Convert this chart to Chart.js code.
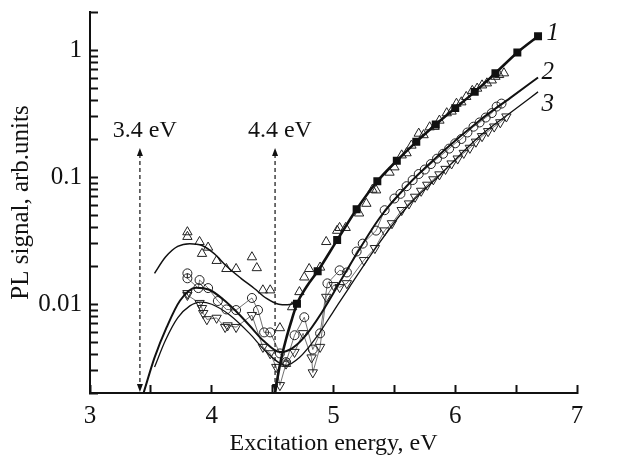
<!DOCTYPE html>
<html>
<head>
<meta charset="utf-8">
<script src="https://cdn.jsdelivr.net/npm/chart.js@4"></script>
<style>
  html, body { margin: 0; padding: 0; background: #fff; }
</style>
</head>
<body>
<canvas id="myChart" width="619" height="458"></canvas>
<script>
// fitted curves, [energy eV, PL signal]
const fit1Uv = [[3.53,0.0175],[3.62,0.0235],[3.72,0.0285],[3.82,0.030],[3.92,0.029],[4.02,0.025],[4.12,0.020],[4.24,0.0160],[4.35,0.0133],[4.45,0.0111],[4.55,0.0100],[4.62,0.0099],[4.70,0.0103]];
const fit1 = [[4.52,0.0020],[4.545,0.0028],[4.57,0.0037],[4.61,0.0053],[4.66,0.0077],[4.70,0.0101],[4.78,0.0138],[4.87,0.0182],[5.03,0.032],[5.19,0.056],[5.36,0.093],[5.52,0.135],[5.68,0.19],[5.84,0.26],[6.00,0.35],[6.16,0.47],[6.33,0.66],[6.51,0.96],[6.68,1.29]];
const fit2 = [[3.44,0.0020],[3.53,0.0038],[3.63,0.0066],[3.74,0.0107],[3.87,0.0135],[3.98,0.0130],[4.10,0.0108],[4.20,0.0088],[4.31,0.0068],[4.43,0.0051],[4.56,0.0042],[4.66,0.0045],[4.76,0.0055],[4.90,0.0085],[5.13,0.020],[5.38,0.048],[5.60,0.085],[5.90,0.16],[6.20,0.28],[6.45,0.42],[6.68,0.61]];
const fit3 = [[3.53,0.0032],[3.62,0.0052],[3.72,0.0078],[3.82,0.0097],[3.91,0.0104],[4.00,0.0100],[4.15,0.0082],[4.31,0.0059],[4.45,0.0042],[4.61,0.0033],[4.72,0.0038],[4.86,0.0055],[5.00,0.0088],[5.13,0.0136],[5.35,0.028],[5.58,0.055],[5.90,0.11],[6.20,0.21],[6.45,0.32],[6.68,0.47]];
const squareX = [4.70,4.87,5.03,5.19,5.36,5.52,5.68,5.84,6.00,6.16,6.33,6.51,6.68];

// measured points
const data1 = [[3.80,0.037],[3.80,0.034],[3.90,0.031],[3.92,0.025],[3.97,0.028],[4.04,0.022],[4.12,0.019],[4.20,0.019],[4.33,0.0235],[4.37,0.0193],[4.42,0.0129],[4.48,0.0129],[4.56,0.0065],[4.61,0.0034],[4.66,0.0095],[4.72,0.0125],[4.76,0.0163],[4.80,0.019],[4.89,0.0195],[4.94,0.031],[5.03,0.038],[5.05,0.040],[5.10,0.040],[5.21,0.052],[5.27,0.062],[5.32,0.080],[5.35,0.079],[5.46,0.109],[5.50,0.12],[5.56,0.149],[5.60,0.155],[5.64,0.178],[5.70,0.221],[5.74,0.215],[5.79,0.248],[5.83,0.25],[5.87,0.28],[5.93,0.32],[5.97,0.33],[6.01,0.38],[6.05,0.39],[6.09,0.43],[6.14,0.48],[6.18,0.50],[6.22,0.53],[6.26,0.55],[6.30,0.58],[6.33,0.62],[6.36,0.64],[6.40,0.66]];
const data2 = [[3.80,0.0175],[3.80,0.016],[3.89,0.0134],[3.90,0.0155],[3.97,0.0134],[4.05,0.0106],[4.12,0.0091],[4.20,0.009],[4.33,0.0112],[4.38,0.009],[4.43,0.006],[4.48,0.006],[4.56,0.0041],[4.61,0.0035],[4.68,0.0057],[4.76,0.0079],[4.83,0.0044],[4.89,0.0059],[4.95,0.0146],[5.05,0.0185],[5.11,0.0178],[5.19,0.026],[5.24,0.030],[5.35,0.038],[5.42,0.055],[5.50,0.068],[5.55,0.074],[5.60,0.085],[5.65,0.095],[5.70,0.106],[5.75,0.115],[5.80,0.127],[5.85,0.14],[5.90,0.153],[5.95,0.168],[6.00,0.185],[6.05,0.20],[6.10,0.225],[6.15,0.25],[6.20,0.27],[6.25,0.295],[6.30,0.32],[6.34,0.36],[6.38,0.38]];
const data3 = [[3.80,0.0122],[3.80,0.0118],[3.90,0.0102],[3.92,0.0093],[3.93,0.0085],[3.96,0.0076],[4.04,0.0078],[4.11,0.0066],[4.13,0.0068],[4.20,0.0066],[4.33,0.0082],[4.42,0.0046],[4.48,0.0041],[4.53,0.0032],[4.56,0.0023],[4.61,0.0034],[4.68,0.0042],[4.75,0.0059],[4.82,0.0038],[4.83,0.0029],[4.89,0.0046],[4.94,0.0114],[5.00,0.0141],[5.05,0.0136],[5.11,0.0146],[5.25,0.0222],[5.34,0.0276],[5.42,0.038],[5.48,0.0433],[5.56,0.055],[5.62,0.062],[5.67,0.070],[5.72,0.078],[5.77,0.087],[5.82,0.096],[5.87,0.105],[5.92,0.116],[5.97,0.128],[6.02,0.14],[6.07,0.155],[6.12,0.17],[6.17,0.19],[6.22,0.21],[6.27,0.23],[6.32,0.25],[6.37,0.27],[6.42,0.30]];

const xTickValues = [3,3.5,4,4.5,5,5.5,6,6.5,7];
const yMajorTicks = [0.01,0.1,1];
const yTickValues = [0.002,0.003,0.004,0.005,0.006,0.007,0.008,0.009,0.01,0.02,0.03,0.04,0.05,0.06,0.07,0.08,0.09,0.1,0.2,0.3,0.4,0.5,0.6,0.7,0.8,0.9,1,2];

const arrowX = [3.41, 4.52];
const arrowTop = 0.17;
const arrowLabels = [['3.4 eV',3.45,0.234],['4.4 eV',4.56,0.234]];
const curveLabels = [['1',6.80,1.36],['2',6.76,0.67],['3',6.76,0.376]];

const serif = '"Liberation Serif", "Times New Roman", serif';
const xy = pts => pts.map(([x, y]) => ({x, y}));

const ctx = document.getElementById('myChart');

const fitLine = (pts, w) => ({
  data: xy(pts), showLine: true, borderColor: '#111', borderWidth: w,
  pointRadius: 0, cubicInterpolationMode: 'monotone', fill: false
});
const marks = (pts, rot, style, line) => ({
  data: xy(pts), showLine: line, borderColor: '#333', borderWidth: 0.7,
  pointStyle: style, rotation: rot, pointRadius: style === 'circle' ? 4.5 : 5.4,
  pointBorderColor: '#222', pointBorderWidth: 1, pointBackgroundColor: 'rgba(255,255,255,0)'
});

// arrows and text labels
const extras = {
  id: 'extras',
  afterDraw(chart) {
    const c = chart.ctx;
    const a = chart.chartArea;
    const sx = chart.scales.x, sy = chart.scales.y;
    c.save();
    c.fillStyle = '#111';
    c.strokeStyle = '#111';
    arrowX.forEach(v => {
      const px = sx.getPixelForValue(v);
      const top = sy.getPixelForValue(arrowTop);
      const bot = a.bottom - 1;
      c.setLineDash([4, 3]);
      c.lineWidth = 1.2;
      c.beginPath();
      c.moveTo(px, top + 6); c.lineTo(px, bot - 6);
      c.stroke();
      c.setLineDash([]);
      c.beginPath();
      c.moveTo(px, top); c.lineTo(px - 3, top + 8); c.lineTo(px + 3, top + 8); c.closePath();
      c.moveTo(px, bot); c.lineTo(px - 3, bot - 8); c.lineTo(px + 3, bot - 8); c.closePath();
      c.fill();
    });

    c.textAlign = 'center';
    c.textBaseline = 'middle';
    c.font = '24px ' + serif;
    arrowLabels.forEach(([t, vx, vy]) => c.fillText(t, sx.getPixelForValue(vx), sy.getPixelForValue(vy)));
    c.font = 'italic 25px ' + serif;
    curveLabels.forEach(([t, vx, vy]) => c.fillText(t, sx.getPixelForValue(vx), sy.getPixelForValue(vy)));
    c.restore();
  }
};

// ticks pointing into the plot: negative tick length, no grid lines
const inwardGrid = {
  display: true, drawOnChartArea: false, drawTicks: true,
  tickLength: -8, tickColor: '#111', tickWidth: 2
};

new Chart(ctx, {
  type: 'scatter',
  data: {
    datasets: [
      Object.assign(fitLine(fit1, 2.6), {
        pointStyle: 'rect', pointBackgroundColor: '#111', pointBorderColor: '#111',
        pointRadius: c => (c.raw && squareX.includes(c.raw.x)) ? 3.8 : 0
      }),
      fitLine(fit1Uv, 1.5),
      fitLine(fit2, 2.0),
      fitLine(fit3, 1.3),
      marks(data1, 0, 'triangle', false),
      marks(data2, 0, 'circle', true),
      marks(data3, 180, 'triangle', true)
    ]
  },
  options: {
    responsive: false,
    animation: false,
    layout: { padding: { top: 12, right: 42, left: 0, bottom: 0 } },
    plugins: { legend: { display: false }, tooltip: { enabled: false } },
    scales: {
      x: {
        type: 'linear', min: 3, max: 7,
        afterBuildTicks: s => { s.ticks = xTickValues.map(v => ({value: v})); },
        afterFit: s => { s.height = 65; s.paddingLeft = 0; s.paddingRight = 0; },
        grid: inwardGrid,
        border: { color: '#111', width: 2 },
        ticks: {
          autoSkip: false, maxRotation: 0, color: '#111', padding: 16,
          font: { family: serif, size: 25 },
          callback: v => Number.isInteger(v) ? String(v) : ''
        },
        title: {
          display: true, text: 'Excitation energy, eV', color: '#111',
          font: { family: serif, size: 24 }, padding: { top: 0, bottom: 0 }
        }
      },
      y: {
        type: 'logarithmic', min: 0.002, max: 2,
        afterBuildTicks: s => { s.ticks = yTickValues.map(v => ({value: v})); },
        afterFit: s => { s.width = 90; s.paddingTop = 0; s.paddingBottom = 0; },
        grid: inwardGrid,
        border: { color: '#111', width: 2 },
        ticks: {
          autoSkip: false, color: '#111', padding: 16,
          font: { family: serif, size: 25 },
          callback: v => yMajorTicks.includes(v) ? String(v) : ''
        },
        title: {
          display: true, text: 'PL signal, arb.units', color: '#111',
          font: { family: serif, size: 25 }, padding: { top: 6, bottom: 0 }
        }
      }
    }
  },
  plugins: [extras]
});
</script>
</body>
</html>
